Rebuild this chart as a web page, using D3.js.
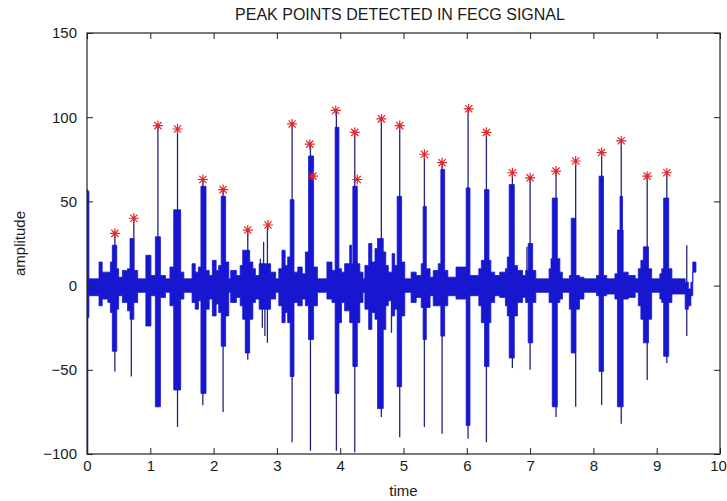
<!DOCTYPE html>
<html>
<head>
<meta charset="utf-8">
<script src="https://cdn.jsdelivr.net/npm/d3@7"></script>
<style>
    body { margin: 0; background: #fff; }
    svg text { font-family: 'Liberation Sans', Arial, sans-serif; fill: #1a1a1a; }
</style>
</head>
<body>
<svg id="chart"></svg>
<script>
// detected peaks (red stars)
const peakTimes = [0.44, 0.74, 1.12, 1.43, 1.83, 2.15, 2.54, 2.86, 3.24, 3.52, 3.57, 3.93, 4.23, 4.27,
    4.65, 4.94, 5.33, 5.61, 6.03, 6.31, 6.72, 7.00, 7.41, 7.72, 8.13, 8.44, 8.85, 9.16];
const peakValues = [31, 40, 95, 93, 63, 57, 33, 36, 96, 84, 65, 104, 91, 63,
    99, 95, 78, 73, 105, 91, 67, 64, 68, 74, 79, 86, 65, 67];

// dense part of the trace, one step per row: [time, top, bottom]
const envelope = [
    [0.00, 56, -19], [0.03, 4, -6], [0.19, 14, -12], [0.24, 8, -8], [0.33, 8, -10],
    [0.37, 14, -16], [0.40, 24, -39], [0.47, 10, -14], [0.50, 5, -6], [0.56, 9, -10],
    [0.64, 10, -15], [0.68, 28, -20], [0.74, 9, -10], [0.80, 4, -4], [0.93, 18, -24],
    [1.01, 6, -6], [1.08, 29, -72], [1.16, 6, -7], [1.24, 4, -4], [1.31, 11, -12],
    [1.37, 45, -62], [1.48, 8, -8], [1.53, 4, -4], [1.66, 13, -10], [1.71, 8, -14],
    [1.76, 11, -9], [1.80, 59, -64], [1.88, 9, -14], [1.93, 6, -8], [1.98, 15, -18],
    [2.04, 9, -11], [2.08, 12, -16], [2.12, 53, -36], [2.19, 14, -18], [2.24, 4, -4],
    [2.27, 9, -10], [2.36, 6, -7], [2.42, 12, -12], [2.46, 21, -20], [2.50, 21, -40],
    [2.57, 14, -20], [2.62, 10, -10], [2.66, 6, -8], [2.72, 13, -14], [2.90, 8, -8],
    [2.98, 4, -4], [3.03, 10, -12], [3.08, 21, -22], [3.13, 12, -16], [3.17, 17, -22],
    [3.21, 51, -54], [3.27, 8, -10], [3.33, 11, -12], [3.40, 7, -8], [3.45, 20, -12],
    [3.50, 77, -32], [3.58, 11, -12], [3.64, 4, -4], [3.79, 14, -8], [3.87, 9, -10],
    [3.92, 94, -64], [3.98, 10, -22], [4.02, 8, -10], [4.07, 13, -15], [4.15, 24, -22],
    [4.18, 13, -22], [4.20, 59, -48], [4.27, 13, -22], [4.31, 8, -10], [4.36, 4, -4],
    [4.39, 12, -14], [4.45, 25, -26], [4.50, 14, -16], [4.55, 22, -20], [4.59, 28, -73],
    [4.68, 20, -26], [4.72, 12, -12], [4.76, 8, -9], [4.82, 19, -18], [4.86, 12, -14],
    [4.90, 53, -60], [4.97, 14, -18], [5.02, 4, -4], [5.12, 8, -10], [5.20, 6, -7],
    [5.28, 13, -13], [5.31, 47, -32], [5.36, 10, -13], [5.42, 5, -6], [5.47, 9, -12],
    [5.55, 13, -12], [5.59, 69, -30], [5.65, 9, -12], [5.70, 5, -6], [5.83, 11, -8],
    [5.99, 58, -83], [6.05, 6, -6], [6.19, 10, -12], [6.23, 15, -22], [6.28, 57, -48],
    [6.35, 15, -22], [6.38, 8, -10], [6.44, 6, -6], [6.52, 8, -7], [6.61, 10, -12],
    [6.64, 17, -18], [6.67, 60, -43], [6.75, 12, -18], [6.80, 9, -10], [6.88, 6, -7],
    [6.93, 9, -10], [6.97, 25, -34], [7.04, 9, -10], [7.09, 4, -4], [7.30, 10, -10],
    [7.33, 16, -10], [7.35, 52, -72], [7.43, 16, -10], [7.47, 8, -8], [7.51, 4, -4],
    [7.62, 6, -14], [7.65, 40, -40], [7.72, 6, -14], [7.78, 5, -8], [7.85, 4, -4],
    [8.05, 6, -6], [8.09, 65, -51], [8.16, 6, -6], [8.21, 4, -5], [8.34, 7, -8],
    [8.38, 33, -72], [8.42, 53, -72], [8.46, 33, -72], [8.47, 8, -8], [8.55, 6, -7],
    [8.66, 4, -4], [8.71, 10, -12], [8.75, 15, -20], [8.79, 23, -34], [8.87, 10, -20],
    [8.92, 4, -4], [9.05, 7, -8], [9.08, 10, -10], [9.11, 52, -42], [9.19, 10, -10],
    [9.24, 4, -5], [9.45, 2, -14], [9.50, -2, -12], [9.54, 2, -6], [9.57, 14, 8],
    [9.62, 14, 8]
];

// single strokes that stick out of the dense part: [time, top, bottom]
const spikes = [
    [0.01, 57, -100], [0.44, 31, -51], [0.74, 40, 0], [0.70, 0, -54], [1.12, 95, -72],
    [1.43, 93, -84], [1.83, 63, -71], [2.15, 57, -75], [2.54, 33, -44], [2.74, 16, -5],
    [2.77, 5, -25], [2.79, 26, -5], [2.81, 5, -30], [2.85, 36, -34], [3.24, 96, -93],
    [3.53, 84, -98], [3.94, 104, -98], [4.23, 91, -99], [4.65, 99, -78], [4.81, 5, -28],
    [4.94, 95, -90], [5.33, 78, -84], [5.61, 73, -88], [6.02, 105, -91], [6.31, 91, -93],
    [6.72, 67, -49], [6.95, 23, -5], [7.00, 64, -50], [7.41, 68, -78], [7.72, 74, -72],
    [8.13, 79, -71], [8.44, 86, -82], [8.85, 65, -56], [9.16, 67, -46], [9.475, 24, -30]
];

const xTicks = [0, 1, 2, 3, 4, 5, 6, 7, 8, 9, 10];
const yTicks = [-100, -50, 0, 50, 100, 150];

const width = 727;
const height = 501;
const margin = { top: 33, right: 7, bottom: 47, left: 87 };

const svg = d3.select('#chart')
    .attr('width', width)
    .attr('height', height);

svg.append('rect')
    .attr('width', width)
    .attr('height', height)
    .attr('fill', '#fff');

const x = d3.scaleLinear()
    .domain([0, 10])
    .range([margin.left, width - margin.right]);

const y = d3.scaleLinear()
    .domain([-100, 150])
    .range([height - margin.bottom, margin.top]);

// clip the trace to the axes box
svg.append('clipPath')
    .attr('id', 'plot-clip')
    .append('rect')
    .attr('x', x(0))
    .attr('y', y(150))
    .attr('width', x(10) - x(0))
    .attr('height', y(-100) - y(150));

const plot = svg.append('g')
    .attr('clip-path', 'url(#plot-clip)');

// thin strokes first, the dense band goes over them
plot.selectAll('line.spike')
    .data(spikes)
    .enter().append('line')
    .attr('class', 'spike')
    .attr('x1', d => x(d[0]))
    .attr('x2', d => x(d[0]))
    .attr('y1', d => y(d[1]))
    .attr('y2', d => y(d[2]))
    .attr('stroke', '#25257a')
    .attr('stroke-width', 1.3);

const band = d3.area()
    .x(d => x(d[0]))
    .y0(d => y(d[2]))
    .y1(d => y(d[1]))
    .curve(d3.curveStepAfter);

plot.append('path')
    .datum(envelope)
    .attr('d', band)
    .attr('fill', '#1717cf')
    .attr('stroke', '#1717cf')
    .attr('stroke-width', 0.8);

// star markers, like matlab '*'
const star = r => {
    const k = r * 0.72;
    return `M0,${-r}V${r}M${-r},0H${r}M${-k},${-k}L${k},${k}M${-k},${k}L${k},${-k}`;
};

plot.selectAll('path.peak')
    .data(peakTimes.map((t, i) => [t, peakValues[i]]))
    .enter().append('path')
    .attr('class', 'peak')
    .attr('transform', d => `translate(${x(d[0])},${y(d[1])})`)
    .attr('d', star(5))
    .attr('fill', 'none')
    .attr('stroke', '#e0282c')
    .attr('stroke-width', 1.2);

// axes box with inward ticks
const axisStyle = g => {
    g.select('.domain').remove();
    g.selectAll('.tick line').attr('stroke', '#222');
    g.selectAll('.tick text')
        .attr('fill', '#1a1a1a')
        .style('font-size', '15px');
};

svg.append('g')
    .attr('transform', `translate(0,${y(-100)})`)
    .call(d3.axisBottom(x).tickValues(xTicks).tickSizeInner(-6).tickSizeOuter(0).tickPadding(6))
    .call(axisStyle)
    .call(g => g.selectAll('.tick text').filter(d => d === 10).attr('dx', -2));

svg.append('g')
    .attr('transform', `translate(0,${y(150)})`)
    .call(d3.axisTop(x).tickValues(xTicks).tickSizeInner(-6).tickSizeOuter(0).tickFormat(''))
    .call(axisStyle);

svg.append('g')
    .attr('transform', `translate(${x(0)},0)`)
    .call(d3.axisLeft(y).tickValues(yTicks).tickSizeInner(-6).tickSizeOuter(0).tickPadding(10))
    .call(axisStyle);

svg.append('g')
    .attr('transform', `translate(${x(10)},0)`)
    .call(d3.axisRight(y).tickValues(yTicks).tickSizeInner(-6).tickSizeOuter(0).tickFormat(''))
    .call(axisStyle);

svg.append('rect')
    .attr('x', x(0))
    .attr('y', y(150))
    .attr('width', x(10) - x(0))
    .attr('height', y(-100) - y(150))
    .attr('fill', 'none')
    .attr('stroke', '#222')
    .attr('stroke-width', 1.2);

// labels
svg.append('text')
    .attr('x', 400)
    .attr('y', 20)
    .attr('text-anchor', 'middle')
    .style('font-size', '16px')
    .text('PEAK POINTS DETECTED IN FECG SIGNAL');

svg.append('text')
    .attr('x', (x(0) + x(10)) / 2)
    .attr('y', 496)
    .attr('text-anchor', 'middle')
    .style('font-size', '15px')
    .text('time');

svg.append('text')
    .attr('transform', `translate(25,${(y(-100) + y(150)) / 2}) rotate(-90)`)
    .attr('text-anchor', 'middle')
    .style('font-size', '15px')
    .text('amplitude');
</script>
</body>
</html>
